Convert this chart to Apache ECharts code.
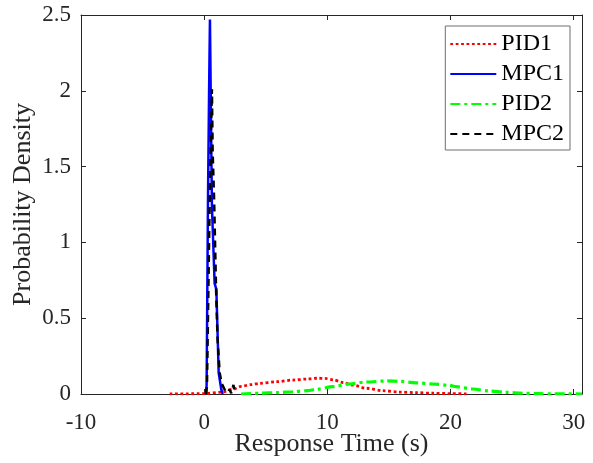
<!DOCTYPE html>
<html>
<head>
<meta charset="utf-8">
<script src="https://cdn.jsdelivr.net/npm/echarts@6/dist/echarts.min.js"></script>
<style>
html,body{margin:0;padding:0;background:#fff;}
#chart{width:593px;height:463px;}
</style>
</head>
<body>
<div id="chart"></div>
<script>
// ---- data ----
const seriesNames = ['PID1', 'MPC1', 'PID2', 'MPC2'];

const pid1X = [-2.8, 0, 1.4, 2.3, 3.0, 3.8, 4.5, 5.86, 7.2, 8.4, 9.2, 9.8, 10.45, 11.26, 12.07, 13.15, 14.5, 15.86, 17.2, 18.56, 19.9, 21.3];
const pid1Y = [0, 0.002, 0.012, 0.03, 0.05, 0.062, 0.07, 0.081, 0.092, 0.099, 0.104, 0.103, 0.094, 0.076, 0.059, 0.038, 0.022, 0.013, 0.009, 0.005, 0.003, 0.001];

const mpc1X = [0.15, 0.2, 0.31, 0.4, 0.47, 0.55, 0.63, 0.85, 0.99, 1.18, 1.39, 1.5];
const mpc1Y = [0, 0.06, 1.28, 2.0, 2.47, 1.85, 1.24, 0.73, 0.69, 0.14, 0.03, 0];

const pid2X = [3.0, 4.5, 5.86, 7.2, 8.4, 9.1, 10.45, 11.8, 13.15, 14.8, 15.86, 17.2, 18.56, 19.9, 20.45, 21.8, 23.15, 24.5, 25.86, 27.2, 28.5, 30.68];
const pid2Y = [0, 0.005, 0.009, 0.015, 0.022, 0.031, 0.048, 0.066, 0.079, 0.086, 0.084, 0.074, 0.066, 0.057, 0.048, 0.033, 0.02, 0.011, 0.005, 0.002, 0.001, 0];

const mpc2X = [0.16, 0.23, 0.45, 0.57, 0.63, 0.69, 0.81, 0.97, 1.09, 1.26, 1.42, 1.52, 1.66, 1.79, 1.92, 2.06, 2.2, 2.38, 2.5];
const mpc2Y = [0, 0.06, 1.28, 1.80, 2.01, 1.6, 1.28, 0.68, 0.36, 0.14, 0.07, 0.06, 0.03, 0.04, 0.01, 0.03, 0.005, 0.06, 0];

const xMin = -10, xMax = 30.68, xInterval = 10;
const yMin = 0, yMax = 2.5, yInterval = 0.5;
const xTitle = 'Response Time (s)';
const yTitle = 'Probability Density';

// ---- chart ----
const zip = (xs, ys) => xs.map((x, i) => [x, ys[i]]);
const axisColor = '#262626';
const font = '"Liberation Serif", "Times New Roman", serif';

const chart = echarts.init(document.getElementById('chart'), null, {renderer: 'canvas'});

const baseX = {
  type: 'value', min: xMin, max: xMax, interval: xInterval,
  axisLine: {show: true, onZero: false, lineStyle: {color: axisColor, width: 1}},
  axisTick: {show: true, inside: true, length: 5, lineStyle: {color: axisColor}},
  splitLine: {show: false}
};
const baseY = {
  type: 'value', min: yMin, max: yMax, interval: yInterval,
  axisLine: {show: true, onZero: false, lineStyle: {color: axisColor, width: 1}},
  axisTick: {show: true, inside: true, length: 5, lineStyle: {color: axisColor}},
  splitLine: {show: false}
};

chart.setOption({
  animation: false,
  backgroundColor: '#fff',
  grid: {left: 81, right: 11, top: 15, bottom: 69, containLabel: false, outerBoundsMode: 'none'},
  xAxis: [
    Object.assign({}, baseX, {
      position: 'bottom',
      name: xTitle, nameLocation: 'middle', nameGap: 37, nameMoveOverlap: false,
      nameTextStyle: {fontFamily: font, fontSize: 26, color: axisColor},
      axisLabel: {show: true, margin: 17, fontFamily: font, fontSize: 23, color: axisColor,
        formatter: v => (Math.abs(v % 10) < 1e-9 ? String(v) : '')}
    }),
    Object.assign({}, baseX, {position: 'top', axisLabel: {show: false}})
  ],
  yAxis: [
    Object.assign({}, baseY, {
      position: 'left',
      name: yTitle, nameLocation: 'middle', nameGap: 45, nameMoveOverlap: false,
      nameTextStyle: {fontFamily: font, fontSize: 26, color: axisColor},
      axisLabel: {show: true, margin: 10, fontFamily: font, fontSize: 23, color: axisColor}
    }),
    Object.assign({}, baseY, {position: 'right', axisLabel: {show: false}})
  ],
  legend: {
    orient: 'vertical', right: 23, top: 26,
    backgroundColor: '#fff', borderColor: '#6e6e6e', borderWidth: 1,
    padding: [6, 6, 4, 4],
    itemWidth: 46, itemHeight: 14, itemGap: 6,
    itemStyle: {opacity: 0},
    textStyle: {fontFamily: font, fontSize: 24, color: '#000'},
    data: seriesNames
  },
  series: [
    {name: seriesNames[0], type: 'line', data: zip(pid1X, pid1Y), showSymbol: false, symbol: 'none',
     smooth: 0.3, smoothMonotone: 'x',
     lineStyle: {color: '#ff0000', width: 2.8, type: [2.8, 2.6], cap: 'butt'}, itemStyle: {color: '#ff0000'}},
    {name: seriesNames[1], type: 'line', data: zip(mpc1X, mpc1Y), showSymbol: false, symbol: 'none',
     lineStyle: {color: '#0000ff', width: 2.5, type: 'solid'}, itemStyle: {color: '#0000ff'}},
    {name: seriesNames[2], type: 'line', data: zip(pid2X, pid2Y), showSymbol: false, symbol: 'none',
     smooth: 0.3, smoothMonotone: 'x',
     lineStyle: {color: '#00ff00', width: 3.2, type: [10, 4, 3, 4], cap: 'butt'}, itemStyle: {color: '#00ff00'}},
    {name: seriesNames[3], type: 'line', data: zip(mpc2X, mpc2Y), showSymbol: false, symbol: 'none',
     lineStyle: {color: '#000000', width: 2.5, type: [7, 5], cap: 'butt'}, itemStyle: {color: '#000000'}}
  ]
});
</script>
</body>
</html>
